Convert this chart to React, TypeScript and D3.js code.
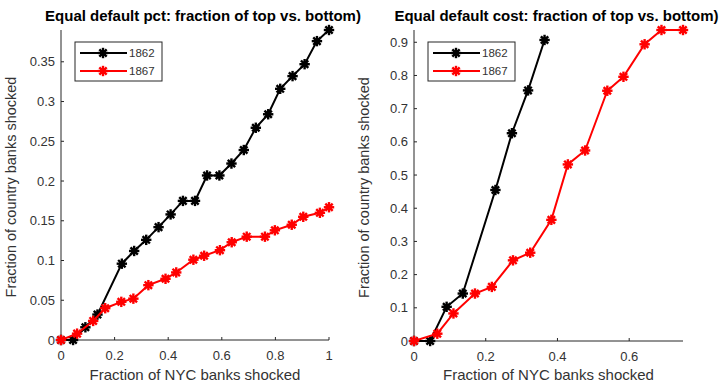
import React, { useEffect, useRef } from 'react';
import * as d3 from 'd3';

// Panel 1: equal default pct
const pctX1862 = [0, 0.045, 0.091, 0.136, 0.227, 0.273, 0.318, 0.364, 0.409, 0.455, 0.5, 0.545, 0.591, 0.636, 0.682, 0.727, 0.773, 0.818, 0.864, 0.909, 0.955, 1.0];
const pctY1862 = [0, 0, 0.016, 0.032, 0.096, 0.112, 0.126, 0.142, 0.158, 0.175, 0.175, 0.207, 0.207, 0.222, 0.239, 0.267, 0.284, 0.316, 0.332, 0.347, 0.376, 0.39];
const pctX1867 = [0, 0.06, 0.12, 0.165, 0.225, 0.27, 0.326, 0.39, 0.43, 0.494, 0.534, 0.593, 0.637, 0.693, 0.761, 0.798, 0.861, 0.904, 0.966, 1.0];
const pctY1867 = [0, 0.008, 0.024, 0.04, 0.048, 0.052, 0.069, 0.077, 0.085, 0.101, 0.106, 0.113, 0.123, 0.13, 0.13, 0.138, 0.145, 0.155, 0.16, 0.167];

// Panel 2: equal default cost
const costX1862 = [0, 0.045, 0.091, 0.136, 0.227, 0.273, 0.318, 0.364];
const costY1862 = [0, 0, 0.103, 0.143, 0.455, 0.626, 0.755, 0.907];
const costX1867 = [0, 0.065, 0.11, 0.17, 0.217, 0.276, 0.324, 0.383, 0.429, 0.477, 0.539, 0.584, 0.643, 0.69, 0.75];
const costY1867 = [0, 0.022, 0.083, 0.143, 0.163, 0.243, 0.266, 0.365, 0.532, 0.574, 0.754, 0.796, 0.894, 0.937, 0.937];

const pctXTicks = [0, 0.2, 0.4, 0.6, 0.8, 1];
const pctYTicks = [0, 0.05, 0.1, 0.15, 0.2, 0.25, 0.3, 0.35];
const costXTicks = [0, 0.2, 0.4, 0.6];
const costYTicks = [0, 0.1, 0.2, 0.3, 0.4, 0.5, 0.6, 0.7, 0.8, 0.9];

const years = ['1862', '1867'];
const colors = ['#000000', '#ff0000'];

const App = () => {
  const ref = useRef<SVGSVGElement | null>(null);

  useEffect(() => {
    const svg = d3.select(ref.current);
    svg.selectAll('*').remove();
    const font = 'Arial, "Liberation Sans", Helvetica, sans-serif';
    const axisColor = '#262626';
    const textColor = '#333333';

    // MATLAB-style '*' marker drawn thick
    const drawMarker = (g: any, cx: number, cy: number, color: string) => {
      const r = 5.2;
      for (let a = 0; a < 180; a += 45) {
        const t = (a * Math.PI) / 180;
        g.append('line')
          .attr('x1', cx - r * Math.cos(t))
          .attr('y1', cy - r * Math.sin(t))
          .attr('x2', cx + r * Math.cos(t))
          .attr('y2', cy + r * Math.sin(t))
          .attr('stroke', color)
          .attr('stroke-width', 2.4);
      }
      g.append('circle').attr('cx', cx).attr('cy', cy).attr('r', 3).attr('fill', color);
    };

    const panel = (opts: any) => {
      const { left, right, top, bottom, xMax, yMax, xTicks, yTicks, series, title, titleShift } = opts;
      const x = d3.scaleLinear().domain([0, xMax]).range([left, right]);
      const y = d3.scaleLinear().domain([0, yMax]).range([bottom, top]);
      const g = svg.append('g');

      // axes lines
      g.append('line').attr('x1', left).attr('x2', right).attr('y1', bottom).attr('y2', bottom)
        .attr('stroke', axisColor).attr('stroke-width', 1);
      g.append('line').attr('x1', left).attr('x2', left).attr('y1', bottom).attr('y2', top)
        .attr('stroke', axisColor).attr('stroke-width', 1);

      // x ticks
      xTicks.forEach((t: number) => {
        g.append('line').attr('x1', x(t)).attr('x2', x(t)).attr('y1', bottom).attr('y2', bottom - 3)
          .attr('stroke', axisColor);
        g.append('text').attr('x', x(t)).attr('y', bottom + 20)
          .attr('text-anchor', 'middle').style('font-family', font).style('font-size', '13px')
          .attr('fill', textColor).text(d3.format('~g')(t));
      });
      // y ticks
      yTicks.forEach((t: number) => {
        g.append('line').attr('x1', left).attr('x2', left + 3).attr('y1', y(t)).attr('y2', y(t))
          .attr('stroke', axisColor);
        g.append('text').attr('x', left - 6).attr('y', y(t) + 4.5)
          .attr('text-anchor', 'end').style('font-family', font).style('font-size', '13px')
          .attr('fill', textColor).text(d3.format('~g')(t));
      });

      // series
      const line = d3.line<[number, number]>().x(d => x(d[0])).y(d => y(d[1]));
      series.forEach((s: any, i: number) => {
        const pts: [number, number][] = s.xs.map((v: number, j: number) => [v, s.ys[j]]);
        g.append('path').datum(pts).attr('fill', 'none').attr('stroke', colors[i])
          .attr('stroke-width', 2).attr('d', line);
        pts.forEach(p => drawMarker(g, x(p[0]), y(p[1]), colors[i]));
      });

      // legend
      const lx = left + 14;
      const ly = 42;
      g.append('rect').attr('x', lx).attr('y', ly).attr('width', 87).attr('height', 39)
        .attr('fill', '#fff').attr('stroke', axisColor).attr('stroke-width', 1);
      years.forEach((yr, i) => {
        const yy = ly + 11 + i * 18;
        g.append('line').attr('x1', lx + 5).attr('x2', lx + 52).attr('y1', yy).attr('y2', yy)
          .attr('stroke', colors[i]).attr('stroke-width', 2);
        drawMarker(g, lx + 28, yy, colors[i]);
        g.append('text').attr('x', lx + 54).attr('y', yy + 4).style('font-family', font)
          .style('font-size', '11.5px').attr('fill', textColor).text(yr);
      });

      // title
      g.append('text').attr('x', (left + right) / 2 + titleShift).attr('y', 21)
        .attr('text-anchor', 'middle').style('font-family', font).style('font-size', '15px')
        .style('font-weight', 'bold').attr('fill', '#000').text(title);

      // axis labels
      g.append('text').attr('x', (left + right) / 2).attr('y', 380)
        .attr('text-anchor', 'middle').style('font-family', font).style('font-size', '15px')
        .attr('fill', textColor).text('Fraction of NYC banks shocked');
      g.append('text')
        .attr('transform', `translate(${left - 45},${(top + bottom) / 2 + 2}) rotate(-90)`)
        .attr('text-anchor', 'middle').style('font-family', font).style('font-size', '14.5px')
        .attr('fill', textColor).text('Fraction of country banks shocked');
    };

    panel({
      left: 61, right: 329, top: 30, bottom: 340,
      xMax: 1, yMax: d3.max(pctY1862) as number,
      xTicks: pctXTicks, yTicks: pctYTicks,
      series: [{ xs: pctX1862, ys: pctY1862 }, { xs: pctX1867, ys: pctY1867 }],
      title: 'Equal default pct: fraction of top vs. bottom)', titleShift: 8,
    });
    panel({
      left: 414, right: 683, top: 30, bottom: 341,
      xMax: d3.max(costX1867) as number, yMax: d3.max(costY1867) as number,
      xTicks: costXTicks, yTicks: costYTicks,
      series: [{ xs: costX1862, ys: costY1862 }, { xs: costX1867, ys: costY1867 }],
      title: 'Equal default cost: fraction of top vs. bottom)', titleShift: 8,
    });
  }, []);

  return (
    <svg ref={ref} width={727} height={383}
      style={{ position: 'absolute', left: 0, top: 0, background: '#fff' }} />
  );
};

export default App;
